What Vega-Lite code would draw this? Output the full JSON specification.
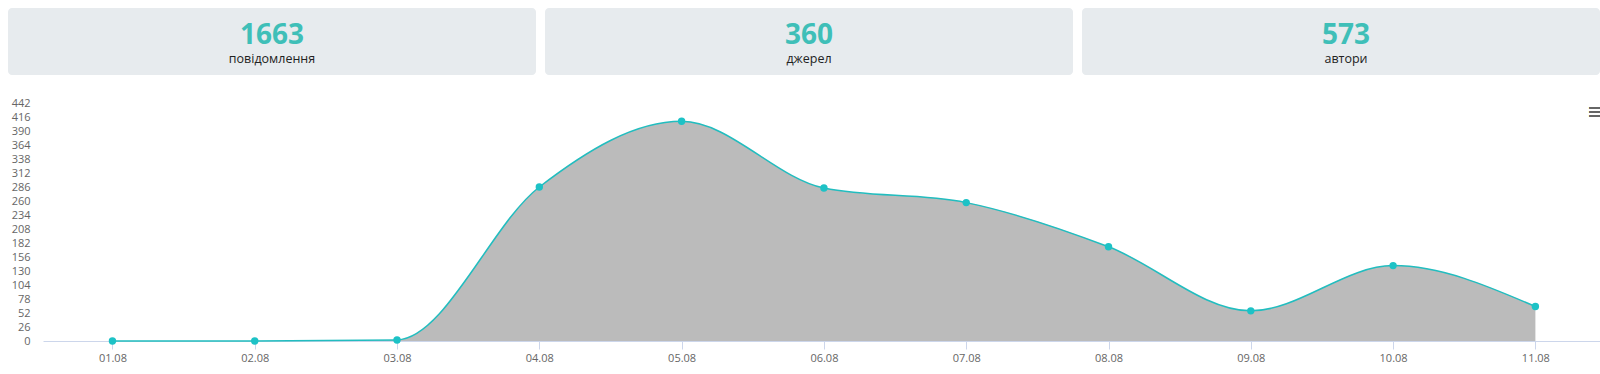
{
  "$schema": "https://vega.github.io/schema/vega-lite/v6.json",
  "padding": {"left": 8, "top": 8, "right": 0, "bottom": 0},
  "background": "white",
  "config": {"font": "Open Sans"},
  "datasets": {
    "cards": [
      {"card": "messages", "value": "1663", "label": "повідомлення"},
      {"card": "sources", "value": "360", "label": "джерел"},
      {"card": "authors", "value": "573", "label": "автори"}
    ],
    "daily": [
      {"date": "01.08", "count": 0},
      {"date": "02.08", "count": 0},
      {"date": "03.08", "count": 2},
      {"date": "04.08", "count": 286},
      {"date": "05.08", "count": 408},
      {"date": "06.08", "count": 284},
      {"date": "07.08", "count": 257},
      {"date": "08.08", "count": 175},
      {"date": "09.08", "count": 56},
      {"date": "10.08", "count": 140},
      {"date": "11.08", "count": 64}
    ]
  },
  "spacing": 22,
  "vconcat": [
    {
      "spacing": 9,
      "hconcat": [
        {
          "width": 528, "height": 67,
          "view": {"fill": "#e7ebee", "stroke": null, "cornerRadius": 4},
          "data": {"name": "cards"},
          "transform": [{"filter": "datum.card === 'messages'"}],
          "layer": [
            {"mark": {"type": "text", "fontSize": 28, "fontWeight": "bold", "color": "#3fbfb8", "dy": -6, "baseline": "middle"}, "encoding": {"text": {"field": "value"}}},
            {"mark": {"type": "text", "fontSize": 12.5, "color": "#222222", "dy": 17, "baseline": "middle"}, "encoding": {"text": {"field": "label"}}}
          ]
        },
        {
          "width": 528, "height": 67,
          "view": {"fill": "#e7ebee", "stroke": null, "cornerRadius": 4},
          "data": {"name": "cards"},
          "transform": [{"filter": "datum.card === 'sources'"}],
          "layer": [
            {"mark": {"type": "text", "fontSize": 28, "fontWeight": "bold", "color": "#3fbfb8", "dy": -6, "baseline": "middle"}, "encoding": {"text": {"field": "value"}}},
            {"mark": {"type": "text", "fontSize": 12.5, "color": "#222222", "dy": 17, "baseline": "middle"}, "encoding": {"text": {"field": "label"}}}
          ]
        },
        {
          "width": 518, "height": 67,
          "view": {"fill": "#e7ebee", "stroke": null, "cornerRadius": 4},
          "data": {"name": "cards"},
          "transform": [{"filter": "datum.card === 'authors'"}],
          "layer": [
            {"mark": {"type": "text", "fontSize": 28, "fontWeight": "bold", "color": "#3fbfb8", "dy": -6, "dx": 5, "baseline": "middle"}, "encoding": {"text": {"field": "value"}}},
            {"mark": {"type": "text", "fontSize": 12.5, "color": "#222222", "dy": 17, "dx": 5, "baseline": "middle"}, "encoding": {"text": {"field": "label"}}}
          ]
        }
      ]
    },
    {
      "width": 1592, "height": 238,
      "data": {"name": "daily"},
      "view": {"stroke": null},
      "encoding": {
        "x": {
          "field": "date", "type": "ordinal", "sort": null,
          "scale": {"type": "point", "range": [35, 1592], "padding": 0.471, "align": 0.518},
          "axis": {"title": null, "labelAngle": 0, "labelFontSize": 11, "labelColor": "#666666", "domainColor": "#ccd6eb", "tickColor": "#ccd6eb", "tickSize": 8, "labelPadding": 3, "grid": false}
        },
        "y": {
          "field": "count", "type": "quantitative",
          "scale": {"domain": [0, 442], "nice": false},
          "axis": {"title": null, "values": [0, 26, 52, 78, 104, 130, 156, 182, 208, 234, 260, 286, 312, 338, 364, 390, 416, 442], "labelFontSize": 11, "labelColor": "#666666", "domain": false, "ticks": false, "tickSize": 0, "grid": false, "labelPadding": -22, "labelAlign": "right", "labelOverlap": false}
        }
      },
      "layer": [
        {"mark": {"type": "area", "interpolate": "monotone", "color": "#bbbbbb", "opacity": 1}},
        {"mark": {"type": "line", "interpolate": "monotone", "color": "#22bdbf", "strokeWidth": 1.5}},
        {"mark": {"type": "point", "filled": true, "size": 55, "color": "#1dc2c6", "opacity": 1}},
        {"mark": {"type": "text", "text": "≡", "fontSize": 24, "fontWeight": "bold", "color": "#666666", "dx": 60}, "encoding": {"x": {"datum": "11.08"}, "y": {"datum": 424}}}
      ]
    }
  ]
}
